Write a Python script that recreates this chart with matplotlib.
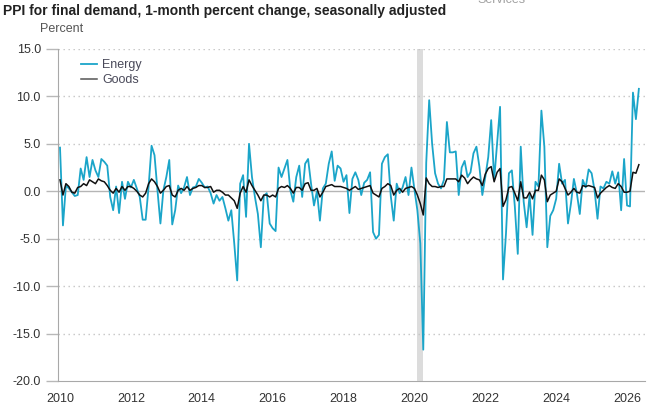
"""PPI final demand, variazione mensile: energia e beni."""
import numpy as np
from matplotlib import pyplot as plt

# Variazione % mensile, gen 2010 - mag 2026
energy_2010 = [4.6, -3.6, 0.6, 0.3, -0.1, -0.5, -0.4, 2.4, 1.2, 3.6, 1.5, 3.3]
energy_2011 = [2.2, 1.5, 3.4, 3.1, 2.7, -0.6, -2.0, 0.5, -2.3, 1.0, -0.8, 1.0]
energy_2012 = [0.4, 1.2, 0.3, -0.6, -3.0, -3.0, 0.5, 4.8, 3.8, 0.1, -3.4, 0.1]
energy_2013 = [1.5, 3.3, -3.5, -2.0, 0.6, -0.2, 0.4, 1.5, -0.4, 0.4, 0.5, 1.3]
energy_2014 = [0.9, 0.4, 0.5, -0.2, -1.3, -0.4, -1.0, -0.6, -1.8, -3.1, -2.0, -5.5]
energy_2015 = [-9.4, 0.8, 1.7, -2.7, 5.0, 1.5, -0.6, -2.4, -5.9, -0.5, -0.2, -3.4]
energy_2016 = [-3.9, -4.2, 2.5, 1.5, 2.4, 3.3, 0.1, -1.1, 1.5, 2.7, -0.6, 2.9]
energy_2017 = [3.4, 0.8, -1.5, 0.0, -3.1, 0.3, 0.8, 2.9, 4.2, 1.1, 2.7, 2.4]
energy_2018 = [1.0, 1.7, -2.3, 1.3, 2.0, 1.2, -0.4, 0.9, 1.2, 2.0, -4.3, -5.0]
energy_2019 = [-4.6, 2.9, 3.6, 3.9, -0.5, -3.1, 0.8, -0.2, 0.4, 1.5, -0.4, 2.5]
energy_2020 = [0.2, -2.0, -5.5, -16.7, 3.0, 9.6, 5.0, 1.9, 0.8, 0.3, 1.2, 7.3]
energy_2021 = [4.1, 4.1, 4.2, -0.4, 2.5, 3.2, 1.5, 2.0, 4.0, 4.7, 2.6, -0.4]
energy_2022 = [1.5, 3.6, 7.5, 1.2, 5.0, 8.9, -9.3, -4.5, 1.9, 2.2, -1.6, -6.6]
energy_2023 = [4.7, -1.1, -3.8, -0.4, -4.6, 1.0, 0.5, 8.5, 4.7, -5.9, -2.6, -2.0]
energy_2024 = [-0.8, 2.9, 0.8, 1.2, -3.4, -1.3, 1.3, -0.2, -2.4, 1.2, 0.4, 2.3]
energy_2025 = [1.9, 0.1, -2.9, 0.5, 0.3, 1.0, 0.8, 2.1, 0.8, 2.0, -2.0, 3.4]
energy_2026 = [-1.5, -1.6, 10.4, 7.6, 10.8]

goods_2010 = [1.2, -0.4, 0.8, 0.5, -0.1, -0.2, 0.4, 0.5, 0.8, 0.6, 1.2, 1.0]
goods_2011 = [0.8, 1.3, 1.1, 1.0, 0.6, 0.1, -0.2, 0.3, -0.1, 0.5, 0.1, 0.5]
goods_2012 = [0.5, 0.3, 0.0, -0.4, -0.6, -0.2, 0.8, 1.3, 1.0, 0.5, -0.2, 0.1]
goods_2013 = [0.5, 0.6, -0.4, -0.6, 0.1, 0.3, 0.1, 0.5, 0.1, 0.3, 0.4, 0.6]
goods_2014 = [0.6, 0.4, 0.4, 0.5, -0.1, 0.1, 0.1, -0.1, -0.4, -0.4, -0.7, -1.0]
goods_2015 = [-1.8, -0.2, 0.5, -0.1, 1.2, 0.6, 0.1, -0.4, -1.0, -0.4, -0.4, -0.6]
goods_2016 = [-0.4, -0.6, 0.3, 0.5, 0.4, 0.6, 0.3, -0.2, 0.4, 0.4, 0.1, 0.8]
goods_2017 = [0.9, 0.1, 0.1, 0.3, -0.6, -0.1, 0.5, 0.6, 0.7, 0.5, 0.5, 0.5]
goods_2018 = [0.4, 0.3, 0.1, 0.3, 0.5, 0.2, 0.3, 0.4, 0.5, 0.6, -0.2, -0.4]
goods_2019 = [-0.6, 0.3, 0.5, 0.8, 0.6, -0.4, 0.1, 0.3, -0.1, 0.3, 0.4, 0.5]
goods_2020 = [0.3, -0.4, -1.3, -2.5, 1.4, 0.8, 0.5, 0.5, 0.4, 0.5, 0.5, 1.3]
goods_2021 = [1.3, 1.3, 1.3, 1.0, 1.7, 1.4, 0.8, 1.2, 1.5, 1.3, 1.2, 0.6]
goods_2022 = [1.8, 2.4, 2.6, 1.0, 2.0, 2.4, -1.6, -0.9, 0.4, 0.5, -0.2, -1.0]
goods_2023 = [1.0, -0.7, -0.7, -0.1, -0.8, 0.1, 0.1, 1.7, 1.2, -1.1, -0.4, -0.2]
goods_2024 = [0.0, 1.3, 1.0, 0.3, -0.4, -0.1, 0.3, -0.1, -0.2, 0.6, 0.5, 0.6]
goods_2025 = [0.5, 0.4, -0.7, -0.2, 0.1, 0.4, 0.6, 0.4, 0.3, 0.8, 0.5, -0.1]
goods_2026 = [-0.1, 0.0, 2.0, 1.9, 2.8]

YEAR_TICKS = [2010, 2012, 2014, 2016, 2018, 2020, 2022, 2024, 2026]
Y_TICKS = [15, 10, 5, 0, -5, -10, -15, -20]
RECESSION = (2020 + 1 / 12, 2020 + 3 / 12)

FONT = ['Liberation Sans Narrow', 'Liberation Sans', 'DejaVu Sans']


def create_graphic():
    energy = (energy_2010 + energy_2011 + energy_2012 + energy_2013 +
              energy_2014 + energy_2015 + energy_2016 + energy_2017 +
              energy_2018 + energy_2019 + energy_2020 + energy_2021 +
              energy_2022 + energy_2023 + energy_2024 + energy_2025 +
              energy_2026)
    goods = (goods_2010 + goods_2011 + goods_2012 + goods_2013 + goods_2014 +
             goods_2015 + goods_2016 + goods_2017 + goods_2018 + goods_2019 +
             goods_2020 + goods_2021 + goods_2022 + goods_2023 + goods_2024 +
             goods_2025 + goods_2026)
    dates = 2010 + np.arange(len(energy)) / 12

    fig = plt.figure(figsize=(6.5, 4.15), dpi=100)
    ax = fig.add_axes([0.0885, 0.082, 0.904, 0.80])

    # griglia puntinata, linea dello zero piena
    for y in Y_TICKS:
        if y == 0:
            ax.axhline(0, color='#b5b5b5', linewidth=1, zorder=1)
        elif y != -20:
            ax.axhline(y, color='#c4c4c4', linewidth=1,
                       linestyle=(0, (1, 2.6)), zorder=1)

    ax.axvspan(RECESSION[0], RECESSION[1], color='#dcdcdc', linewidth=0,
               zorder=0)

    ax.plot(dates, energy, color='#1ba5c9', linewidth=1.3, label='Energy',
            zorder=3)
    ax.plot(dates, goods, color='#111111', linewidth=1.1, label='Goods',
            zorder=4)

    ax.set_xlim(2009.93, 2026.51)
    ax.set_ylim(-20, 15)
    ax.set_yticks(Y_TICKS)
    ax.set_yticklabels([f'{v:.1f}' for v in Y_TICKS])
    ax.set_xticks(YEAR_TICKS)
    ax.set_xticklabels([str(y) for y in YEAR_TICKS])

    for side in ['top', 'right']:
        ax.spines[side].set_visible(False)
    ax.spines['left'].set_color('#a8a8a8')
    ax.spines['bottom'].set_color('#a8a8a8')

    ax.tick_params(axis='y', length=9, width=1, color='#b8b8b8', pad=3,
                   labelsize=9, labelcolor='#333333')
    ax.tick_params(axis='x', length=0, pad=9, labelsize=9,
                   labelcolor='#333333')
    for lab in ax.get_xticklabels() + ax.get_yticklabels():
        lab.set_family(FONT)

    leg = ax.legend(loc='upper left', bbox_to_anchor=(0.025, 0.995),
                    frameon=False, handlelength=1.3, handletextpad=0.4,
                    labelspacing=0.22, borderpad=0.2,
                    prop={'family': ['Liberation Sans', 'DejaVu Sans'],
                          'size': 9})
    for txt in leg.get_texts():
        txt.set_color('#4a4a5a')
    leg.get_lines()[1].set_color('#555555')

    fig.text(3 / 650, 1 - 11 / 415,
             'PPI for final demand, 1-month percent change, '
             'seasonally adjusted',
             va='center', ha='left', fontsize=10, fontweight='bold',
             color='#222222', family=['Liberation Sans', 'DejaVu Sans'])
    fig.text(40 / 650, 1 - 29 / 415, 'Percent', va='center', ha='left',
             fontsize=9, color='#555555', family=FONT)
    fig.text(477 / 650, 1 - 3 / 415, 'Services', va='baseline', ha='left',
             fontsize=9, color='#a0a0a0', family=FONT)

    fig.savefig('out.png', dpi=100)


if __name__ == '__main__':
    create_graphic()
